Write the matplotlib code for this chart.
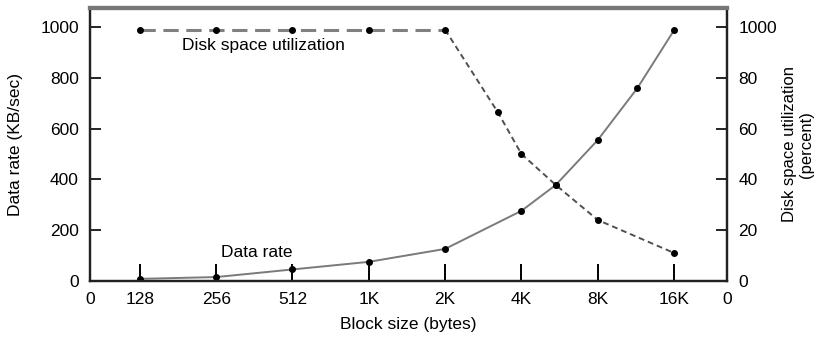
import matplotlib
matplotlib.use("Agg")
import matplotlib.pyplot as plt

plt.rcParams["font.family"] = ["Liberation Sans", "DejaVu Sans"]

# block sizes in bytes (intermediate points)
rate_sizes = [128, 256, 512, 1024, 2048, 4096, 5595, 8192, 11748, 16384]
rate_kbs = [8, 15, 45, 75, 126, 276, 378, 555, 760, 988]

space_sizes = [128, 256, 512, 1024, 2048, 3304, 4096, 5595, 8192, 16384]
space_pct = [99, 99, 99, 99, 99, 66.5, 50, 37.8, 24, 11]

tick_sizes = [128, 256, 512, 1024, 2048, 4096, 8192, 16384]
tick_labels = ["128", "256", "512", "1K", "2K", "4K", "8K", "16K"]
left_ticks = [0, 200, 400, 600, 800, 1000]
right_ticks = [0, 20, 40, 60, 80, 100]
right_labels = ["0", "20", "40", "60", "80", "1000"]

x_lo, x_hi = 81.3, 26530
fs = 12.5

fig = plt.figure(figsize=(8.17, 3.38), dpi=100)
ax = fig.add_axes([0.110, 0.169, 0.780, 0.807])
ax.set_xscale("log", base=2)

ax.plot(rate_sizes, rate_kbs, color="#7a7a7a", linewidth=1.4,
        marker="o", markersize=4, markerfacecolor="black",
        markeredgecolor="black", zorder=3)

ax2 = ax.twinx()
ax2.plot(space_sizes[:5], space_pct[:5], color="#808080", linewidth=2.2,
         dashes=(5, 2.5), zorder=3)
ax2.plot(space_sizes[4:], space_pct[4:], color="#505050", linewidth=1.4,
         dashes=(3, 2), zorder=3)
ax2.plot(space_sizes, space_pct, linestyle="none", marker="o", markersize=4,
         color="black", zorder=4)

ax.set_xlim(x_lo, x_hi)
ax.set_ylim(0, 1075)
ax2.set_ylim(0, 107.5)

ax.set_xticks([x_lo] + tick_sizes + [x_hi])
ax.set_xticklabels(["0"] + tick_labels + ["0"])
ax.xaxis.set_minor_locator(matplotlib.ticker.NullLocator())
ax.tick_params(axis="x", direction="in", length=12, width=1.4, pad=8,
               labelsize=fs)
ax.set_yticks(left_ticks)
ax.tick_params(axis="y", direction="in", length=8, width=1.2, pad=8,
               labelsize=fs)
ax2.set_yticks(right_ticks)
ax2.set_yticklabels(right_labels)
ax2.tick_params(axis="y", direction="in", length=8, width=1.2, pad=8,
                labelsize=fs)

for a in (ax, ax2):
    for side in ("left", "bottom", "right"):
        a.spines[side].set_linewidth(1.6)
        a.spines[side].set_color("#222222")
    a.spines["top"].set_linewidth(3)
    a.spines["top"].set_color("#777777")

ax.set_xlabel("Block size (bytes)", fontsize=fs, labelpad=7)
ax.set_ylabel("Data rate (KB/sec)", fontsize=fs, labelpad=12)
ax2.set_ylabel("Disk space utilization\n(percent)", fontsize=12,
               rotation=90, labelpad=4, linespacing=1.1)

ax.text(187, 929, "Disk space utilization", fontsize=fs, va="center")
ax.text(268, 110, "Data rate", fontsize=fs, va="center")

fig.savefig("out.png", dpi=100)
